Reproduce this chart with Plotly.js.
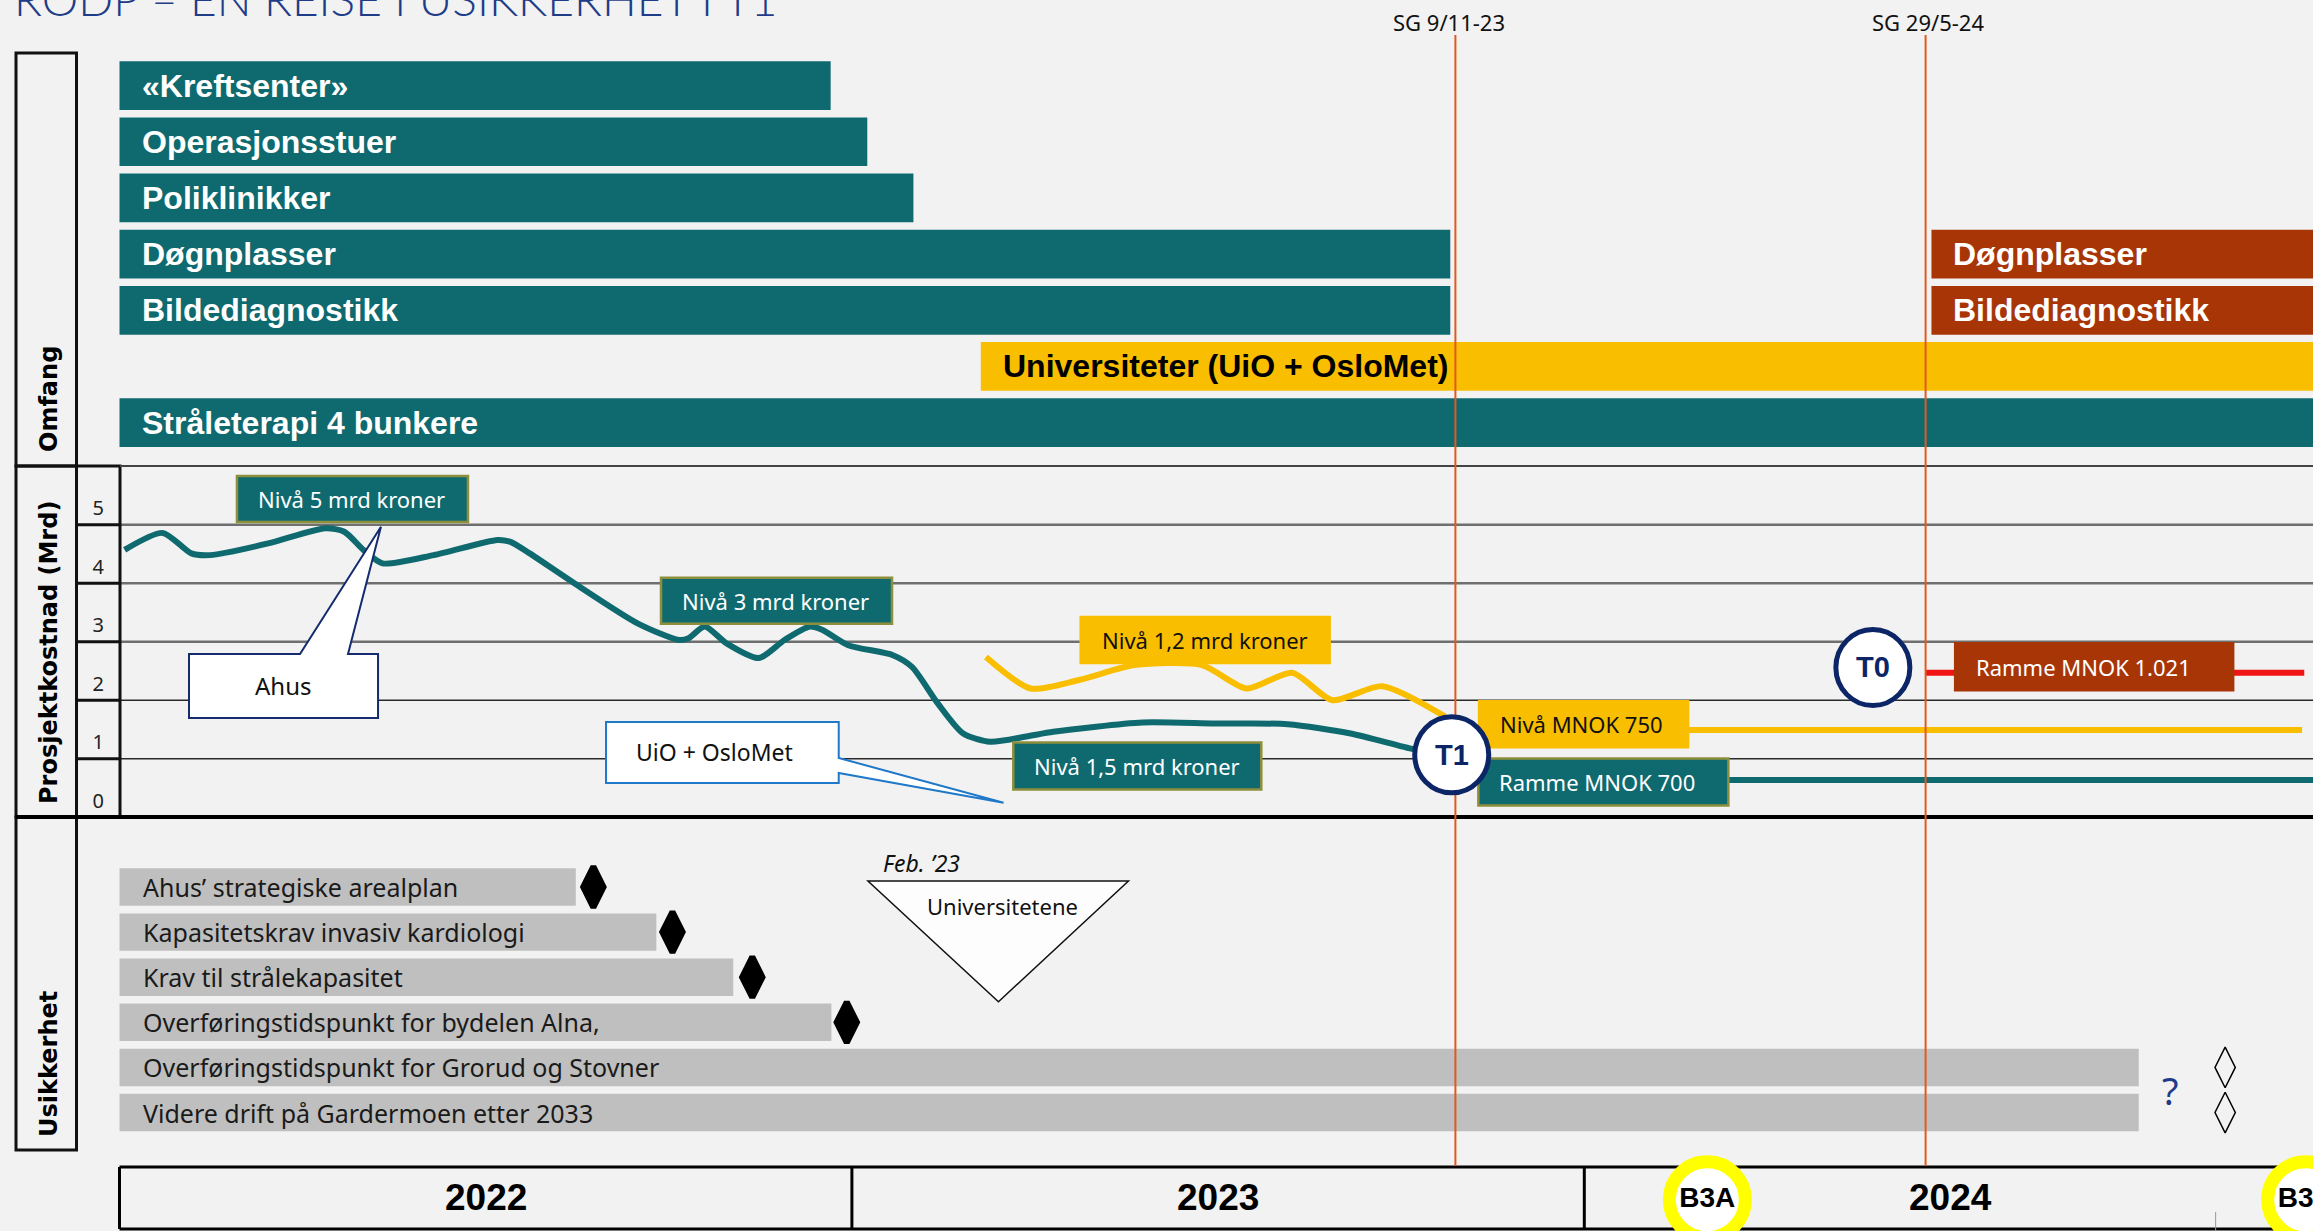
<!DOCTYPE html>
<html>
<head>
<meta charset="utf-8">
<script src="https://cdn.plot.ly/plotly-3.0.1.min.js"></script>
<style>
  body { margin: 0; background: #f2f2f2; }
  #chart { width: 2313px; height: 1231px; }
</style>
</head>
<body>
<div id="chart"></div>
<script>
// ---- values (x in fractional years) ----

// Omfang (scope) bars
var scopeLabels = ["«Kreftsenter»", "Operasjonsstuer", "Poliklinikker", "Døgnplasser", "Bildediagnostikk", "Universiteter (UiO + OsloMet)", "Stråleterapi 4 bunkere"];
var scopeRows = [0, 1, 2, 3, 4, 5, 6];
var scopeStart = [2022, 2022, 2022, 2022, 2022, 2023.176, 2022];
var scopeEnd = [2022.971, 2023.021, 2023.084, 2023.817, 2023.817, 2025.2, 2025.2];

var laterLabels = ["Døgnplasser", "Bildediagnostikk"];
var laterRows = [3, 4];
var laterStart = [2024.474, 2024.474];
var laterEnd = [2025.2, 2025.2];

// Prosjektkostnad (mrd kroner)
var tealX = [2022.007, 2022.059, 2022.098, 2022.124, 2022.203, 2022.281, 2022.307, 2022.333, 2022.359, 2022.429,
  2022.516, 2022.533, 2022.560, 2022.621, 2022.708, 2022.764, 2022.777, 2022.799, 2022.829, 2022.873,
  2022.908, 2022.943, 2022.960, 2022.995, 2023.056, 2023.082, 2023.117, 2023.152, 2023.189, 2023.238,
  2023.275, 2023.397, 2023.496, 2023.595, 2023.681, 2023.767, 2023.810];
var tealY = [4.57, 4.86, 4.51, 4.48, 4.68, 4.94, 4.88, 4.57, 4.34, 4.48,
  4.74, 4.71, 4.51, 4.00, 3.31, 3.03, 3.06, 3.26, 2.97, 2.72,
  3.03, 3.26, 3.20, 2.94, 2.77, 2.57, 1.95, 1.43, 1.29, 1.38,
  1.46, 1.62, 1.60, 1.59, 1.43, 1.16, 1.07];
var yellowX = [2023.183, 2023.244, 2023.311, 2023.386, 2023.478, 2023.539, 2023.601, 2023.656, 2023.724, 2023.810];
var yellowY = [2.74, 2.20, 2.35, 2.60, 2.60, 2.20, 2.47, 2.00, 2.24, 1.72];
var frame700X = [2023.82, 2025.2];
var frame700Y = [0.636, 0.636];
var level750X = [2023.82, 2024.98];
var level750Y = [1.49, 1.49];
var frame1021X = [2024.466, 2024.983];
var frame1021Y = [2.47, 2.47];
var costTicks = [0, 1, 2, 3, 4, 5];
var gridVals = [1, 2, 3, 4, 5];

// Usikkerhet
var uncLabels = ["Ahus’ strategiske arealplan", "Kapasitetskrav invasiv kardiologi", "Krav til strålekapasitet",
  "Overføringstidspunkt for bydelen Alna,", "Overføringstidspunkt for Grorud og Stovner", "Videre drift på Gardermoen etter 2033"];
var uncRows = [0, 1, 2, 3, 4, 5];
var uncEnd = [2022.623, 2022.733, 2022.838, 2022.972, 2024.757, 2024.757];
var decidedX = [2022.647, 2022.755, 2022.864, 2022.993];
var decidedRows = [0, 1, 2, 3];
var openX = [2024.875, 2024.875];
var openRows = [4, 5];

// milestones and years
var sgX = [2023.824, 2024.466];
var sgLabels = ["SG 9/11-23", "SG 29/5-24"];
var years = [2022, 2023, 2024];
var b3X = [2024.168, 2024.985];
var b3Labels = ["B3A", "B3B"];

// ---- styling ----
var W = 2313, H = 1231;
function px(x) { return x / W; }
function py(y) { return 1 - y / H; }
var teal = "#0F6A70", yellow = "#F9BE00", brown = "#A83506", navy = "#0C2566",
    olive = "#8E8F3C", grey = "#BFBFBF", orange = "#E2591F";
var txt = "Noto Sans";

var data = [
  {
    type: "bar", orientation: "h", y: scopeRows, base: scopeStart,
    x: scopeEnd.map(function (e, i) { return e - scopeStart[i]; }),
    width: 0.867, marker: {color: scopeRows.map(function (r) { return r === 5 ? yellow : teal; })},
    xaxis: "x", yaxis: "y", hoverinfo: "skip"
  },
  {
    type: "bar", orientation: "h", y: laterRows, base: laterStart,
    x: laterEnd.map(function (e, i) { return e - laterStart[i]; }),
    width: 0.867, marker: {color: brown}, xaxis: "x", yaxis: "y", hoverinfo: "skip"
  },
  {
    type: "scatter", mode: "lines", x: tealX, y: tealY, xaxis: "x", yaxis: "y2",
    line: {color: teal, width: 6, shape: "spline", smoothing: 0.7}, hoverinfo: "skip"
  },
  {
    type: "scatter", mode: "lines", x: yellowX, y: yellowY, xaxis: "x", yaxis: "y2",
    line: {color: yellow, width: 6, shape: "spline", smoothing: 0.7}, hoverinfo: "skip"
  },
  {
    type: "scatter", mode: "lines", x: frame700X, y: frame700Y, xaxis: "x", yaxis: "y2",
    line: {color: teal, width: 6}, hoverinfo: "skip"
  },
  {
    type: "scatter", mode: "lines", x: level750X, y: level750Y, xaxis: "x", yaxis: "y2",
    line: {color: yellow, width: 6}, hoverinfo: "skip"
  },
  {
    type: "scatter", mode: "lines", x: frame1021X, y: frame1021Y, xaxis: "x", yaxis: "y2",
    line: {color: "#F01414", width: 6}, hoverinfo: "skip"
  },
  {
    type: "bar", orientation: "h", y: uncRows, base: uncRows.map(function () { return 2022; }),
    x: uncEnd.map(function (e) { return e - 2022; }),
    width: 0.83, marker: {color: grey}, xaxis: "x", yaxis: "y3", hoverinfo: "skip"
  },
  {
    type: "scatter", mode: "markers", x: decidedX, y: decidedRows, xaxis: "x", yaxis: "y3",
    marker: {symbol: "diamond-tall", size: 29, color: "#000", line: {color: "#000", width: 6}}, hoverinfo: "skip"
  },
  {
    type: "scatter", mode: "markers", x: openX, y: openRows, xaxis: "x", yaxis: "y3",
    marker: {symbol: "diamond-tall-open", size: 29, color: "#000", line: {color: "#000", width: 1.5}}, hoverinfo: "skip"
  },
  {
    type: "scatter", mode: "markers+text", x: b3X, y: [0.48, 0.48], text: b3Labels,
    textposition: "middle center", textfont: {family: "Liberation Sans", size: 28, color: "#000", weight: "bold"},
    xaxis: "x", yaxis: "y4", cliponaxis: false,
    marker: {symbol: "circle", size: 76, color: "#fff", line: {color: "#FFFF00", width: 13}}, hoverinfo: "skip"
  }
];

var annotations = [];
var shapes = [];

// title, clipped by the top of the slide
annotations.push({xref: "paper", yref: "paper", x: px(12), y: 1 + 2 / H, xanchor: "left", yanchor: "middle",
  text: "RODP – EN REISE I USIKKERHET I T1", showarrow: false,
  font: {family: "Lato", size: 46, color: "#1F3C88", weight: 300}});

// section captions
[["Omfang", 399], ["Prosjektkostnad (Mrd)", 653], ["Usikkerhet", 1064]].forEach(function (s) {
  annotations.push({xref: "paper", yref: "paper", x: px(49), y: py(s[1]), xanchor: "center", yanchor: "middle",
    text: s[0], textangle: -90, showarrow: false,
    font: {family: "DejaVu Sans", size: 24, color: "#000", weight: "bold"}});
});

// scope texts
scopeLabels.forEach(function (t, i) {
  annotations.push({xref: "x", yref: "y", x: scopeStart[i], y: scopeRows[i], xanchor: "left", yanchor: "middle",
    xshift: 20, text: t, showarrow: false,
    font: {family: "Liberation Sans", size: 32, weight: "bold", color: i === 5 ? "#000" : "#fff"}});
});
laterLabels.forEach(function (t, i) {
  annotations.push({xref: "x", yref: "y", x: laterStart[i], y: laterRows[i], xanchor: "left", yanchor: "middle",
    xshift: 20, text: t, showarrow: false, font: {family: "Liberation Sans", size: 32, weight: "bold", color: "#fff"}});
});

// frame of the left captions and the cost table
function rect(x0, y0, x1, y1, w) {
  shapes.push({type: "rect", xref: "paper", yref: "paper", x0: px(x0), x1: px(x1), y0: py(y0), y1: py(y1),
    line: {color: "#111", width: w}});
}
rect(16, 53, 76.5, 466, 3);
rect(16, 466, 76.5, 817, 3);
rect(76.5, 466, 120, 817, 3);
rect(16, 817, 76.5, 1150, 3);
shapes.push({type: "line", xref: "paper", yref: "paper", x0: px(120), x1: 1, y0: py(466), y1: py(466),
  line: {color: "#444", width: 2}});
shapes.push({type: "line", xref: "paper", yref: "paper", x0: px(16), x1: 1, y0: py(817), y1: py(817),
  line: {color: "#000", width: 4}});

// cost grid lines
gridVals.forEach(function (v) {
  shapes.push({type: "line", layer: "below", xref: "paper", yref: "y2", x0: px(120), x1: 1, y0: v, y1: v,
    line: {color: v >= 3 ? "#6f6f6f" : "#2a2a2a", width: v >= 3 ? 2.5 : 1.5}});
  shapes.push({type: "line", xref: "paper", yref: "y2", x0: px(76.5), x1: px(120), y0: v, y1: v,
    line: {color: "#111", width: 3}});
});

// year row
[1167, 1229].forEach(function (yy) {
  shapes.push({type: "line", layer: "below", xref: "x", yref: "paper", x0: 2022, x1: 2025.2, y0: py(yy), y1: py(yy),
    line: {color: "#000", width: 3}});
});
years.forEach(function (yr) {
  shapes.push({type: "line", layer: "below", xref: "x", yref: "paper", x0: yr, x1: yr, y0: py(1229), y1: py(1167),
    line: {color: "#000", width: 3}});
  annotations.push({xref: "x", yref: "paper", x: yr + 0.5, y: py(1197), xanchor: "center", yanchor: "middle",
    text: String(yr), showarrow: false,
    font: {family: "Liberation Sans", size: 37, weight: "bold", color: "#000"}});
});
shapes.push({type: "line", layer: "below", xref: "x", yref: "paper", x0: 2024.862, x1: 2024.862, y0: 0, y1: py(1212),
  line: {color: "#999", width: 1}});

// steering group milestones
sgX.forEach(function (x, i) {
  shapes.push({type: "line", xref: "x", yref: "paper", x0: x, x1: x, y0: py(1166), y1: py(35),
    line: {color: orange, width: 2}});
  annotations.push({xref: "x", yref: "paper", x: x, y: py(22), xanchor: "center", yanchor: "middle",
    xshift: i === 0 ? -6 : 2, text: sgLabels[i], showarrow: false, font: {family: txt, size: 22, color: "#111"}});
});

// callouts
shapes.push({type: "path", xref: "x", yref: "y2", fillcolor: "#fff", line: {color: "#142B6E", width: 2},
  path: "M2022.0949,2.790 L2022.2465,2.790 L2022.357,4.964 L2022.312,2.790 L2022.353,2.790 L2022.353,1.697 L2022.0949,1.697 Z"});
annotations.push({xref: "x", yref: "y2", x: 2022.224, y: 2.243, text: "Ahus", showarrow: false,
  font: {family: txt, size: 24, color: "#111"}});
shapes.push({type: "path", xref: "x", yref: "y2", fillcolor: "#fff", line: {color: "#1F78C8", width: 2},
  path: "M2022.6643,1.627 L2022.982,1.627 L2022.982,1.012 L2023.2071,0.248 L2022.982,0.756 L2022.982,0.585 L2022.6643,0.585 Z"});
annotations.push({xref: "x", yref: "y2", x: 2022.813, y: 1.106, text: "UiO + OsloMet", showarrow: false,
  font: {family: txt, size: 23, color: "#111"}});

// level boxes
var boxes = [
  {text: "Nivå 5 mrd kroner", x: 2022.159, y: 5.44, w: 233, h: 48, fill: teal, line: olive, color: "#fff"},
  {text: "Nivå 3 mrd kroner", x: 2022.738, y: 3.70, w: 233, h: 48, fill: teal, line: olive, color: "#fff"},
  {text: "Nivå 1,2 mrd kroner", x: 2023.311, y: 3.03, w: 251, h: 48, fill: yellow, line: yellow, color: "#111"},
  {text: "Nivå 1,5 mrd kroner", x: 2023.219, y: 0.875, w: 250, h: 49, fill: teal, line: olive, color: "#fff"},
  {text: "Nivå MNOK 750", x: 2023.855, y: 1.59, w: 211, h: 48, fill: yellow, line: yellow, color: "#111"},
  {text: "Ramme MNOK 700", x: 2023.854, y: 0.60, w: 252, h: 49, fill: teal, line: olive, color: "#fff"},
  {text: "Ramme MNOK 1.021", x: 2024.505, y: 2.57, w: 280, h: 49, fill: brown, line: brown, color: "#fff"}
];
boxes.forEach(function (b) {
  shapes.push({type: "rect", xref: "x", yref: "y2", xsizemode: "pixel", ysizemode: "pixel",
    xanchor: b.x, yanchor: b.y, x0: 1, x1: b.w - 1, y0: -b.h / 2 + 1, y1: b.h / 2 - 1,
    fillcolor: b.fill, line: {color: b.line, width: 2.5}});
  annotations.push({xref: "x", yref: "y2", x: b.x, y: b.y, xanchor: "left", yanchor: "middle", xshift: 20,
    text: b.text, showarrow: false, font: {family: txt, size: 22, color: b.color}});
});

// T0 / T1 decision points
[["T1", 2023.819, 1.066], ["T0", 2024.394, 2.559]].forEach(function (t) {
  shapes.push({type: "circle", xref: "x", yref: "y2", xsizemode: "pixel", ysizemode: "pixel",
    xanchor: t[1], yanchor: t[2], x0: -37, x1: 37, y0: -38, y1: 38,
    fillcolor: "#fff", line: {color: navy, width: 5}});
  annotations.push({xref: "x", yref: "y2", x: t[1], y: t[2], text: t[0], showarrow: false,
    font: {family: "Liberation Sans", size: 29, weight: "bold", color: navy}});
});

// uncertainty texts
uncLabels.forEach(function (t, i) {
  annotations.push({xref: "x", yref: "y3", x: 2022, y: uncRows[i], xanchor: "left", yanchor: "middle", xshift: 21,
    text: t, showarrow: false, font: {family: txt, size: 25, color: "#1a1a1a"}});
});
shapes.push({type: "path", xref: "x", yref: "y3", fillcolor: "rgba(255,255,255,0.85)", line: {color: "#111", width: 1.5},
  path: "M2023.0219,-0.133 L2023.3776,-0.133 L2023.2001,2.543 Z"});
annotations.push({xref: "x", yref: "y3", x: 2023.205, y: 0.42, text: "Universitetene", showarrow: false,
  font: {family: txt, size: 22, color: "#111"}});
annotations.push({xref: "x", yref: "y3", x: 2023.0957, y: -0.532, text: "Feb. ’23", showarrow: false,
  font: {family: txt, size: 23, color: "#111", style: "italic"}});
annotations.push({xref: "x", yref: "y3", x: 2024.801, y: 4.5, text: "?", showarrow: false,
  font: {family: txt, size: 38, color: "#1F3C88"}});

var hidden = {visible: false, fixedrange: true};
var layout = {
  width: W, height: H,
  margin: {l: 0, r: 0, t: 0, b: 0},
  paper_bgcolor: "#f2f2f2", plot_bgcolor: "rgba(0,0,0,0)",
  showlegend: false, hovermode: false, barmode: "overlay",
  xaxis: Object.assign({domain: [px(104.85), 1], range: [2021.98, 2024.99495], anchor: "y3"}, hidden),
  yaxis: Object.assign({domain: [0.63387, 0.95329], range: [6.5, -0.5], anchor: "x"}, hidden),
  yaxis2: {
    domain: [0.33379, 0.62364], range: [-0.05, 6.05], anchor: "x",
    tickvals: costTicks.map(function (v) { return v + 0.28; }),
    ticktext: costTicks.map(String),
    tickfont: {family: txt, size: 20, color: "#222"},
    ticks: "", showgrid: false, zeroline: false, showline: false, fixedrange: true
  },
  yaxis3: Object.assign({domain: [0.07425, 0.31243], range: [5.6, -0.9], anchor: "x"}, hidden),
  yaxis4: Object.assign({domain: [0, 0.0528], range: [0, 1], anchor: "x"}, hidden),
  shapes: shapes,
  annotations: annotations
};

Plotly.newPlot("chart", data, layout, {staticPlot: true, displayModeBar: false});
</script>
</body>
</html>
